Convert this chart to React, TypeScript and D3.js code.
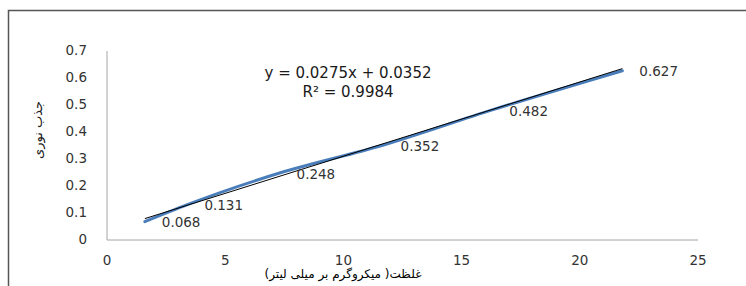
import React from "react";
import * as d3 from "d3";

const concentrations = [1.6, 3.4, 7.3, 11.7, 16.3, 21.8];
const absorbance = [0.068, 0.131, 0.248, 0.352, 0.482, 0.627];
const xTicks = [0, 5, 10, 15, 20, 25];
const yTicks = [0, 0.1, 0.2, 0.3, 0.4, 0.5, 0.6, 0.7];
const slope = 0.0275;
const intercept = 0.0352;
const equationText = "y = 0.0275x + 0.0352";
const r2Text = "R² = 0.9984";
const xTitle = "غلظت( میکروگرم بر میلی لیتر)";
const yTitle = "جذب نوری";

export default function App() {
  const W = 746, H = 286;
  const x = d3.scaleLinear().domain([0, 25]).range([107, 698]);
  const y = d3.scaleLinear().domain([0, 0.7]).range([240, 51]);
  const pts = concentrations.map((c, i) => [x(c), y(absorbance[i])] as [number, number]);
  const line = d3.line().curve(d3.curveMonotoneX)(pts) || "";
  const x0 = concentrations[0], x1 = concentrations[concentrations.length - 1];
  const font = "'DejaVu Sans', Verdana, sans-serif";
  const txt = "#333";
  const fs = 13.5;
  return (
    <svg width={W} height={H} style={{ position: "absolute", left: 0, top: 0, background: "#fff" }}>
      <path d={`M8.5 ${H} L8.5 10.5 L${W} 10.5`} fill="none" stroke="#555" strokeWidth={1.5} />
      <line x1={x(0)} x2={x(0)} y1={y(0.7)} y2={y(0)} stroke="#a6a6a6" strokeWidth={1} />
      <line x1={x(0)} x2={x(25)} y1={y(0)} y2={y(0)} stroke="#a6a6a6" strokeWidth={1} />
      {yTicks.map((t) => (
        <text key={t} x={87} y={y(t) - 1} dy="0.35em" textAnchor="end" fontFamily={font} fontSize={fs} fill={txt}>
          {String(t)}
        </text>
      ))}
      {xTicks.map((t) => (
        <text key={t} x={x(t)} y={260} dy="0.35em" textAnchor="middle" fontFamily={font} fontSize={fs} fill={txt}>
          {t}
        </text>
      ))}
      <path d={line} fill="none" stroke="#4a7ebb" strokeWidth={3} strokeLinecap="round" />
      <line x1={x(x0)} y1={y(slope * x0 + intercept)} x2={x(x1)} y2={y(slope * x1 + intercept)} stroke="#000" strokeWidth={1} />
      {pts.map((p, i) => (
        <text key={i} x={p[0] + 17} y={p[1] + 1} dy="0.35em" fontFamily={font} fontSize={fs} fill={txt}>
          {String(absorbance[i])}
        </text>
      ))}
      <text x={348} y={73} dy="0.35em" textAnchor="middle" fontFamily={font} fontSize={15} fill="#1a1a1a">{equationText}</text>
      <text x={348} y={92} dy="0.35em" textAnchor="middle" fontFamily={font} fontSize={15} fill="#1a1a1a">{r2Text}</text>
      <text x={343} y={274} dy="0.35em" textAnchor="middle" fontFamily={font} fontSize={12} fill="#000">{xTitle}</text>
      <text transform={`translate(37,130) rotate(-90)`} dy="0.35em" textAnchor="middle" fontFamily={font} fontSize={13} fill="#222">{yTitle}</text>
    </svg>
  );
}
